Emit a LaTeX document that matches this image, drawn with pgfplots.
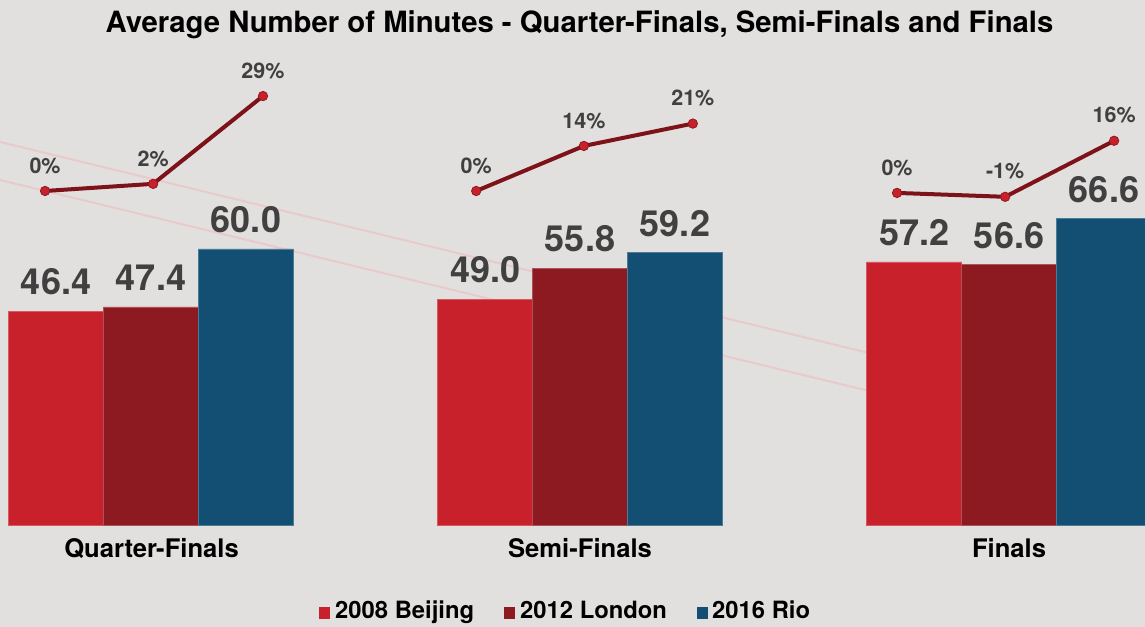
\documentclass[border=0pt]{standalone}
\usepackage{fontspec}
\setmainfont{TeX Gyre Heros}
\usepackage{pgfplots}
\pgfplotsset{compat=1.18}
\definecolor{bg}{HTML}{E2E0DF}
\definecolor{cA}{HTML}{C8212B}
\definecolor{cB}{HTML}{8E1A21}
\definecolor{cC}{HTML}{124F73}
\definecolor{lineC}{HTML}{7D1219}
\definecolor{deco}{HTML}{E9CACA}
\definecolor{lab}{HTML}{404040}
\pgfplotsset{pctline/.style={draw=lineC, line width=4bp, mark=*, mark size=4.7bp, mark options={solid, fill=cA, draw=cB, line width=0.8bp}}}
\begin{document}
\begin{tikzpicture}[x=1bp,y=1bp]
\useasboundingbox (0,0) rectangle (1145,627);
\clip (0,0) rectangle (1145,627);
\fill[bg] (0,0) rectangle (1145,627);
\draw[deco, line width=2bp] (0,485) -- (1145,207);
\draw[deco, line width=2bp] (0,447) -- (1145,169);
\begin{axis}[at={(0,0)}, anchor=south west, scale only axis,
  width=1145bp, height=627bp, hide axis,
  xmin=-0.352, xmax=2.317, ymin=-22.17, ymax=114.13,
  ybar=0pt, bar width=0.2214,
  point meta=explicit symbolic,
  nodes near coords={\pgfplotspointmeta},
  every node near coord/.append style={font=\bfseries\fontsize{36bp}{38bp}\selectfont, text=lab, anchor=south, inner sep=0pt, yshift=16bp}]
\addplot[fill=cA, draw=cA!75!white, line width=0.6bp] coordinates {(0,46.4) [46.4] (1,49.0) [49.0] (2,57.2) [57.2]};
\addplot[fill=cB, draw=cB!75!white, line width=0.6bp] coordinates {(0,47.4) [47.4] (1,55.8) [55.8] (2,56.6) [56.6]};
\addplot[fill=cC, draw=cC!75!white, line width=0.6bp] coordinates {(0,60.0) [60.0] (1,59.2) [59.2] (2,66.6) [66.6]};
\end{axis}
\begin{axis}[at={(0,0)}, anchor=south west, scale only axis,
  width=1145bp, height=627bp, hide axis,
  xmin=-0.352, xmax=2.317, ymin=-134.57, ymax=58.95,
  point meta=explicit symbolic,
  nodes near coords={\pgfplotspointmeta},
  every node near coord/.append style={font=\bfseries\fontsize{21.5bp}{23bp}\selectfont, text=lab, anchor=south, inner sep=0pt, yshift=17bp}]
\addplot[pctline] coordinates {(-0.247,0) [0\%] (0.005,2.2) [2\%] (0.261,29.3) [29\%]};
\addplot[pctline] coordinates {(0.758,0) [0\%] (1.009,13.9) [14\%] (1.263,20.8) [21\%]};
\addplot[pctline] coordinates {(1.739,-0.6) [0\%] (1.991,-1.8) [-1\%] (2.245,15.5) [16\%]};
\end{axis}
\node[font=\bfseries\fontsize{29.3bp}{32bp}\selectfont, anchor=base, inner sep=0pt] at (579.5,594) {Average Number of Minutes - Quarter-Finals, Semi-Finals and Finals};
\begin{scope}[every node/.style={font=\bfseries\fontsize{25.6bp}{28bp}\selectfont, anchor=base, inner sep=0pt}]
\node at (151.5,69) {Quarter-Finals};
\node at (580,69) {Semi-Finals};
\node at (1009,69) {Finals};
\end{scope}
\begin{scope}[every node/.style={font=\bfseries\fontsize{23.8bp}{26bp}\selectfont, anchor=base west, inner sep=0pt}]
\fill[cA] (319,8) rectangle (330,20);
\node at (335,8) {2008 Beijing};
\fill[cB] (504,8) rectangle (515,20);
\node at (520,8) {2012 London};
\fill[cC] (697,8) rectangle (708,20);
\node at (712,8) {2016 Rio};
\end{scope}
\end{tikzpicture}
\end{document}
